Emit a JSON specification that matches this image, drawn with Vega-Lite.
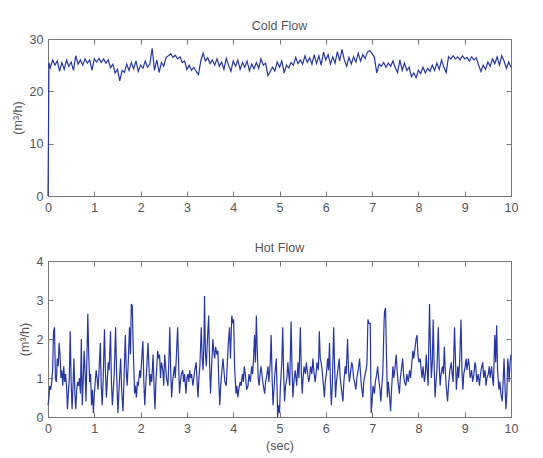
{
"$schema": "https://vega.github.io/schema/vega-lite/v6.json",
"padding": {"left": 11, "top": 19, "right": 30, "bottom": 2},
"spacing": 27,
"config": {
  "font": "Liberation Sans",
  "view": {"stroke": null},
  "axis": {"domainColor": "#777", "tickColor": "#777", "tickSize": -5, "labelPadding": 10, "labelColor": "#555", "labelFontSize": 12.5, "titleColor": "#555", "titleFontSize": 12.5, "titleFontWeight": "normal", "grid": false, "labelFlush": false, "labelOverlap": false, "titlePadding": 5},
  "title": {"fontSize": 12.5, "fontWeight": "normal", "color": "#555", "offset": 1}
},
"datasets": {
"cold": [
{"t":0,"v":0},{"t":0.01,"v":11},{"t":0.02,"v":25.5},{"t":0.05,"v":24.5},{"t":0.1,"v":26},{"t":0.15,"v":25},{"t":0.2,"v":25.8},{"t":0.25,"v":23.8},{"t":0.3,"v":25.5},{"t":0.35,"v":24.2},{"t":0.4,"v":26},{"t":0.45,"v":24.8},{"t":0.5,"v":25.6},{"t":0.55,"v":24},{"t":0.6,"v":26.8},{"t":0.65,"v":25.2},{"t":0.7,"v":26},{"t":0.75,"v":25},{"t":0.8,"v":26.2},{"t":0.85,"v":25.4},{"t":0.9,"v":26},{"t":0.95,"v":24},
{"t":1,"v":26.2},{"t":1.05,"v":25.6},{"t":1.1,"v":26.3},{"t":1.15,"v":25.5},{"t":1.2,"v":26.2},{"t":1.25,"v":25.4},{"t":1.3,"v":26},{"t":1.35,"v":24.5},{"t":1.4,"v":25.2},{"t":1.45,"v":23.5},{"t":1.5,"v":24.2},{"t":1.55,"v":22},{"t":1.6,"v":24},{"t":1.65,"v":23.6},{"t":1.7,"v":25.2},{"t":1.75,"v":24},{"t":1.8,"v":25.5},{"t":1.85,"v":24.3},{"t":1.9,"v":25.8},{"t":1.95,"v":23.8},
{"t":2,"v":25},{"t":2.05,"v":24.4},{"t":2.1,"v":25.8},{"t":2.15,"v":24.6},{"t":2.2,"v":25.2},{"t":2.25,"v":28.2},{"t":2.3,"v":24},{"t":2.35,"v":26},{"t":2.4,"v":23.6},{"t":2.45,"v":25.5},{"t":2.5,"v":24.8},{"t":2.55,"v":26.5},{"t":2.6,"v":26.8},{"t":2.65,"v":27.2},{"t":2.7,"v":26.5},{"t":2.75,"v":26.9},{"t":2.8,"v":26.2},{"t":2.85,"v":26.6},{"t":2.9,"v":25.5},{"t":2.95,"v":25.8},
{"t":3,"v":24.2},{"t":3.05,"v":25},{"t":3.1,"v":24},{"t":3.15,"v":24.6},{"t":3.2,"v":23.8},{"t":3.25,"v":23.2},{"t":3.3,"v":25.8},{"t":3.35,"v":27.3},{"t":3.4,"v":25.8},{"t":3.45,"v":26.4},{"t":3.5,"v":25.3},{"t":3.55,"v":26},{"t":3.6,"v":25},{"t":3.65,"v":26.2},{"t":3.7,"v":24.8},{"t":3.75,"v":25.6},{"t":3.8,"v":24.2},{"t":3.85,"v":26.3},{"t":3.9,"v":25},{"t":3.95,"v":23.8},
{"t":4,"v":25.8},{"t":4.05,"v":24.8},{"t":4.1,"v":26},{"t":4.15,"v":24.2},{"t":4.2,"v":25.5},{"t":4.25,"v":24.6},{"t":4.3,"v":25.8},{"t":4.35,"v":23.9},{"t":4.4,"v":25.2},{"t":4.45,"v":24.3},{"t":4.5,"v":25.5},{"t":4.55,"v":24.4},{"t":4.6,"v":26.2},{"t":4.65,"v":25},{"t":4.7,"v":25.4},{"t":4.75,"v":23},{"t":4.8,"v":23.8},{"t":4.85,"v":24.6},{"t":4.9,"v":23.9},{"t":4.95,"v":25.6},
{"t":5,"v":24.6},{"t":5.05,"v":25.8},{"t":5.1,"v":23.5},{"t":5.15,"v":25},{"t":5.2,"v":24.5},{"t":5.25,"v":25.5},{"t":5.3,"v":25},{"t":5.35,"v":26.5},{"t":5.4,"v":25.3},{"t":5.45,"v":26},{"t":5.5,"v":25.2},{"t":5.55,"v":26.8},{"t":5.6,"v":25.5},{"t":5.65,"v":26.4},{"t":5.7,"v":25.2},{"t":5.75,"v":27},{"t":5.8,"v":25.3},{"t":5.85,"v":26.8},{"t":5.9,"v":25},{"t":5.95,"v":27.5},
{"t":6,"v":26},{"t":6.05,"v":27},{"t":6.1,"v":25.2},{"t":6.15,"v":26.6},{"t":6.2,"v":25.4},{"t":6.25,"v":27.6},{"t":6.3,"v":25.8},{"t":6.35,"v":28},{"t":6.4,"v":26},{"t":6.45,"v":24.8},{"t":6.5,"v":26.5},{"t":6.55,"v":25.2},{"t":6.6,"v":26.6},{"t":6.65,"v":25.6},{"t":6.7,"v":27.3},{"t":6.75,"v":25.8},{"t":6.8,"v":27},{"t":6.85,"v":26.3},{"t":6.9,"v":27.5},{"t":6.95,"v":27.8},
{"t":7,"v":27.2},{"t":7.05,"v":26.5},{"t":7.1,"v":23.5},{"t":7.15,"v":25.2},{"t":7.2,"v":24.8},{"t":7.25,"v":25.5},{"t":7.3,"v":24.6},{"t":7.35,"v":25.4},{"t":7.4,"v":24.8},{"t":7.45,"v":25.8},{"t":7.5,"v":24.5},{"t":7.55,"v":23.6},{"t":7.6,"v":26},{"t":7.65,"v":24},{"t":7.7,"v":25.4},{"t":7.75,"v":24},{"t":7.8,"v":24.6},{"t":7.85,"v":22.8},{"t":7.9,"v":23.5},{"t":7.95,"v":22.6},
{"t":8,"v":24},{"t":8.05,"v":23.4},{"t":8.1,"v":24.6},{"t":8.15,"v":23.5},{"t":8.2,"v":24.4},{"t":8.25,"v":23.8},{"t":8.3,"v":25},{"t":8.35,"v":24},{"t":8.4,"v":25.4},{"t":8.45,"v":24.2},{"t":8.5,"v":26},{"t":8.55,"v":24.6},{"t":8.6,"v":23.6},{"t":8.65,"v":26.6},{"t":8.7,"v":26.2},{"t":8.75,"v":26.8},{"t":8.8,"v":26.2},{"t":8.85,"v":26.6},{"t":8.9,"v":26},{"t":8.95,"v":26.8},
{"t":9,"v":26.2},{"t":9.05,"v":26.5},{"t":9.1,"v":25.8},{"t":9.15,"v":26.6},{"t":9.2,"v":26},{"t":9.25,"v":26.4},{"t":9.3,"v":25},{"t":9.35,"v":23.8},{"t":9.4,"v":25},{"t":9.45,"v":24.2},{"t":9.5,"v":25.6},{"t":9.55,"v":24.8},{"t":9.6,"v":26.2},{"t":9.65,"v":25.3},{"t":9.7,"v":26.6},{"t":9.75,"v":25},{"t":9.8,"v":26.8},{"t":9.85,"v":25.8},{"t":9.9,"v":24.4},{"t":9.95,"v":25.6},{"t":10,"v":24.6}
],
"hot": [
{"t":0,"v":0.3},{"t":0.02,"v":0.5},{"t":0.04,"v":0.8},{"t":0.06,"v":0.7},{"t":0.08,"v":0.9},{"t":0.1,"v":1.2},{"t":0.12,"v":2.2},{"t":0.14,"v":2.3},{"t":0.16,"v":1},{"t":0.18,"v":0.9},{"t":0.2,"v":1.5},{"t":0.22,"v":1.3},{"t":0.24,"v":1.9},{"t":0.26,"v":1.6},{"t":0.28,"v":1},{"t":0.3,"v":1.2},{"t":0.32,"v":0.8},{"t":0.34,"v":1.3},{"t":0.36,"v":0.9},{"t":0.38,"v":1.1},{"t":0.4,"v":0.8},{"t":0.42,"v":0.2},{"t":0.44,"v":0.6},{"t":0.46,"v":1},{"t":0.48,"v":2.2},{"t":0.5,"v":0.9},{"t":0.52,"v":0.2},{"t":0.54,"v":0.8},{"t":0.56,"v":1.5},{"t":0.58,"v":0.6},{"t":0.6,"v":0.2},{"t":0.62,"v":0.7},{"t":0.64,"v":0.9},{"t":0.66,"v":0.8},{"t":0.68,"v":1},{"t":0.7,"v":0.6},{"t":0.72,"v":2},{"t":0.74,"v":0.3},{"t":0.76,"v":0.9},{"t":0.78,"v":1.7},{"t":0.8,"v":1.2},{"t":0.82,"v":0.4},{"t":0.84,"v":1.5},{"t":0.86,"v":2.65},{"t":0.88,"v":1.6},{"t":0.9,"v":0.9},{"t":0.92,"v":1.1},{"t":0.94,"v":0.3},{"t":0.96,"v":0.7},{"t":0.98,"v":0.1},
{"t":1,"v":0.6},{"t":1.02,"v":0.9},{"t":1.04,"v":1.2},{"t":1.06,"v":1},{"t":1.08,"v":0.7},{"t":1.1,"v":1.1},{"t":1.13,"v":1.9},{"t":1.15,"v":0.8},{"t":1.17,"v":0.3},{"t":1.19,"v":0.9},{"t":1.22,"v":2.25},{"t":1.24,"v":1.2},{"t":1.26,"v":0.5},{"t":1.28,"v":0.9},{"t":1.3,"v":1.4},{"t":1.32,"v":1.2},{"t":1.35,"v":2.2},{"t":1.37,"v":0.9},{"t":1.39,"v":0.3},{"t":1.41,"v":0.7},{"t":1.43,"v":1.1},{"t":1.46,"v":2.3},{"t":1.48,"v":1.2},{"t":1.51,"v":0.1},{"t":1.53,"v":0.6},{"t":1.55,"v":1.1},{"t":1.57,"v":1.5},{"t":1.59,"v":0.7},{"t":1.62,"v":0.15},{"t":1.64,"v":0.9},{"t":1.67,"v":2.1},{"t":1.69,"v":1.2},{"t":1.71,"v":0.8},{"t":1.73,"v":1.3},{"t":1.76,"v":2.3},{"t":1.78,"v":1.6},{"t":1.8,"v":2.9},{"t":1.82,"v":2.85},{"t":1.84,"v":1.8},{"t":1.87,"v":0.6},{"t":1.89,"v":0.8},{"t":1.91,"v":0.5},{"t":1.93,"v":0.9},{"t":1.95,"v":0.8},{"t":1.98,"v":1.2},
{"t":2,"v":1},{"t":2.02,"v":1.4},{"t":2.05,"v":1.95},{"t":2.07,"v":0.9},{"t":2.09,"v":0.3},{"t":2.11,"v":0.8},{"t":2.13,"v":1.2},{"t":2.16,"v":1.9},{"t":2.18,"v":1.3},{"t":2.2,"v":0.8},{"t":2.22,"v":1.1},{"t":2.24,"v":0.9},{"t":2.27,"v":1.6},{"t":2.29,"v":0.8},{"t":2.31,"v":0.2},{"t":2.33,"v":0.9},{"t":2.35,"v":1.3},{"t":2.37,"v":1.7},{"t":2.39,"v":1.5},{"t":2.41,"v":1.6},{"t":2.43,"v":1},{"t":2.45,"v":1.4},{"t":2.48,"v":1.2},{"t":2.5,"v":0.8},{"t":2.52,"v":1.6},{"t":2.54,"v":1.3},{"t":2.56,"v":1},{"t":2.59,"v":0.8},{"t":2.61,"v":1.4},{"t":2.63,"v":2.3},{"t":2.65,"v":1.2},{"t":2.67,"v":0.5},{"t":2.69,"v":0.9},{"t":2.71,"v":1.1},{"t":2.73,"v":1.3},{"t":2.75,"v":1},{"t":2.77,"v":1.5},{"t":2.8,"v":2.3},{"t":2.82,"v":1.4},{"t":2.84,"v":0.6},{"t":2.86,"v":0.9},{"t":2.88,"v":1.1},{"t":2.91,"v":1.2},{"t":2.93,"v":0.9},{"t":2.95,"v":1.1},{"t":2.98,"v":0.6},
{"t":3,"v":1},{"t":3.02,"v":1.1},{"t":3.04,"v":0.9},{"t":3.06,"v":1.2},{"t":3.08,"v":1},{"t":3.1,"v":1.1},{"t":3.13,"v":0.8},{"t":3.15,"v":1},{"t":3.17,"v":1.2},{"t":3.2,"v":1.4},{"t":3.22,"v":0.9},{"t":3.24,"v":0.5},{"t":3.26,"v":1},{"t":3.28,"v":1.3},{"t":3.31,"v":2.3},{"t":3.33,"v":1.5},{"t":3.35,"v":1.2},{"t":3.37,"v":2},{"t":3.38,"v":3.1},{"t":3.4,"v":1.6},{"t":3.42,"v":1.3},{"t":3.44,"v":1.9},{"t":3.47,"v":2.6},{"t":3.49,"v":1.4},{"t":3.51,"v":0.6},{"t":3.53,"v":1.2},{"t":3.56,"v":2},{"t":3.58,"v":1.7},{"t":3.6,"v":1.5},{"t":3.62,"v":1.8},{"t":3.65,"v":1.6},{"t":3.67,"v":1.7},{"t":3.69,"v":0.9},{"t":3.71,"v":0.3},{"t":3.73,"v":0.8},{"t":3.75,"v":1.1},{"t":3.78,"v":1.5},{"t":3.8,"v":1.2},{"t":3.82,"v":0.9},{"t":3.85,"v":0.8},{"t":3.87,"v":1.3},{"t":3.89,"v":1.8},{"t":3.92,"v":2.3},{"t":3.94,"v":1.5},{"t":3.97,"v":2.6},{"t":3.99,"v":2.4},
{"t":4.01,"v":2.5},{"t":4.03,"v":1.3},{"t":4.06,"v":0.6},{"t":4.08,"v":0.8},{"t":4.1,"v":0.5},{"t":4.12,"v":0.7},{"t":4.15,"v":0.9},{"t":4.17,"v":0.8},{"t":4.2,"v":1.1},{"t":4.22,"v":0.9},{"t":4.24,"v":1.3},{"t":4.27,"v":1},{"t":4.29,"v":0.7},{"t":4.32,"v":0.8},{"t":4.34,"v":1.1},{"t":4.37,"v":0.9},{"t":4.4,"v":1.3},{"t":4.42,"v":1.1},{"t":4.44,"v":1.5},{"t":4.46,"v":2.1},{"t":4.48,"v":1.4},{"t":4.5,"v":2.6},{"t":4.52,"v":1.7},{"t":4.54,"v":1},{"t":4.56,"v":0.8},{"t":4.58,"v":1.1},{"t":4.6,"v":1.3},{"t":4.63,"v":1},{"t":4.65,"v":0.8},{"t":4.68,"v":0.6},{"t":4.7,"v":0.9},{"t":4.73,"v":1.1},{"t":4.75,"v":1.3},{"t":4.77,"v":0.9},{"t":4.8,"v":1.4},{"t":4.82,"v":2.1},{"t":4.84,"v":1},{"t":4.86,"v":0.3},{"t":4.88,"v":0.7},{"t":4.9,"v":1.1},{"t":4.93,"v":1.5},{"t":4.95,"v":0.6},{"t":4.96,"v":0},{"t":4.98,"v":0.3},
{"t":5,"v":0.1},{"t":5.02,"v":0.8},{"t":5.05,"v":1.4},{"t":5.07,"v":2.3},{"t":5.09,"v":1.1},{"t":5.11,"v":0.4},{"t":5.13,"v":0.8},{"t":5.16,"v":1},{"t":5.18,"v":1.4},{"t":5.2,"v":1.1},{"t":5.22,"v":0.8},{"t":5.25,"v":2.45},{"t":5.27,"v":1.3},{"t":5.29,"v":0.5},{"t":5.31,"v":0.9},{"t":5.34,"v":1.2},{"t":5.37,"v":0.8},{"t":5.4,"v":1.4},{"t":5.42,"v":1},{"t":5.45,"v":2.3},{"t":5.47,"v":1.2},{"t":5.49,"v":0.6},{"t":5.51,"v":1},{"t":5.53,"v":1.3},{"t":5.56,"v":1.1},{"t":5.58,"v":1.4},{"t":5.6,"v":1.2},{"t":5.63,"v":0.9},{"t":5.65,"v":1},{"t":5.67,"v":1.3},{"t":5.7,"v":1.1},{"t":5.72,"v":1.5},{"t":5.74,"v":1.2},{"t":5.77,"v":0.9},{"t":5.79,"v":1.1},{"t":5.81,"v":1.4},{"t":5.84,"v":1.2},{"t":5.86,"v":2.2},{"t":5.88,"v":1.5},{"t":5.9,"v":1.4},{"t":5.92,"v":1.2},{"t":5.95,"v":0.8},{"t":5.97,"v":0.5},{"t":5.99,"v":0.9},
{"t":6.02,"v":1.2},{"t":6.04,"v":1.5},{"t":6.06,"v":1.2},{"t":6.08,"v":1.9},{"t":6.1,"v":0.9},{"t":6.12,"v":0.3},{"t":6.14,"v":0.8},{"t":6.17,"v":2.3},{"t":6.19,"v":1.3},{"t":6.21,"v":0.5},{"t":6.23,"v":0.9},{"t":6.26,"v":1.2},{"t":6.29,"v":1.5},{"t":6.31,"v":1},{"t":6.34,"v":0.7},{"t":6.37,"v":0.4},{"t":6.39,"v":0.9},{"t":6.42,"v":1.3},{"t":6.44,"v":1.1},{"t":6.47,"v":2},{"t":6.49,"v":1.2},{"t":6.51,"v":0.9},{"t":6.53,"v":1.1},{"t":6.56,"v":1.4},{"t":6.58,"v":1.3},{"t":6.6,"v":1},{"t":6.62,"v":0.9},{"t":6.65,"v":0.7},{"t":6.67,"v":1},{"t":6.7,"v":1.2},{"t":6.73,"v":1.5},{"t":6.75,"v":1.1},{"t":6.77,"v":0.8},{"t":6.8,"v":0.5},{"t":6.82,"v":0.9},{"t":6.85,"v":1.1},{"t":6.87,"v":1.2},{"t":6.89,"v":1.4},{"t":6.91,"v":2.5},{"t":6.93,"v":2.4},{"t":6.96,"v":2.4},{"t":6.98,"v":0.1},
{"t":7,"v":0.4},{"t":7.02,"v":0.8},{"t":7.05,"v":0.6},{"t":7.07,"v":0.9},{"t":7.1,"v":1.1},{"t":7.12,"v":1.3},{"t":7.14,"v":1},{"t":7.17,"v":0.7},{"t":7.19,"v":0.4},{"t":7.21,"v":0.8},{"t":7.23,"v":1.1},{"t":7.26,"v":2.5},{"t":7.27,"v":2.7},{"t":7.29,"v":2.8},{"t":7.31,"v":1.6},{"t":7.33,"v":0.5},{"t":7.35,"v":0.9},{"t":7.38,"v":0.5},{"t":7.4,"v":0.15},{"t":7.42,"v":0.7},{"t":7.45,"v":1.3},{"t":7.47,"v":1},{"t":7.49,"v":1.2},{"t":7.52,"v":1.6},{"t":7.54,"v":1.2},{"t":7.56,"v":0.9},{"t":7.59,"v":0.6},{"t":7.61,"v":1},{"t":7.63,"v":1.2},{"t":7.66,"v":1.5},{"t":7.68,"v":1.1},{"t":7.7,"v":0.9},{"t":7.73,"v":0.8},{"t":7.75,"v":1.1},{"t":7.78,"v":0.9},{"t":7.81,"v":1.2},{"t":7.83,"v":1},{"t":7.86,"v":1.4},{"t":7.88,"v":1.7},{"t":7.9,"v":1.5},{"t":7.93,"v":1.8},{"t":7.95,"v":2},{"t":7.97,"v":2.1},{"t":7.99,"v":1.6},
{"t":8.01,"v":1.4},{"t":8.04,"v":1.5},{"t":8.06,"v":1.2},{"t":8.08,"v":1},{"t":8.1,"v":1.3},{"t":8.13,"v":0.9},{"t":8.15,"v":1.1},{"t":8.17,"v":1.6},{"t":8.19,"v":1.2},{"t":8.21,"v":0.8},{"t":8.22,"v":1.5},{"t":8.24,"v":2.9},{"t":8.26,"v":1.8},{"t":8.28,"v":1},{"t":8.3,"v":1.4},{"t":8.32,"v":2.5},{"t":8.34,"v":1.3},{"t":8.36,"v":0.5},{"t":8.38,"v":0.9},{"t":8.4,"v":1.2},{"t":8.43,"v":2.3},{"t":8.45,"v":1.3},{"t":8.47,"v":0.8},{"t":8.49,"v":1.1},{"t":8.52,"v":1.3},{"t":8.54,"v":1.1},{"t":8.56,"v":1.8},{"t":8.58,"v":1.2},{"t":8.6,"v":0.8},{"t":8.63,"v":0.4},{"t":8.65,"v":0.8},{"t":8.68,"v":1.2},{"t":8.71,"v":1.4},{"t":8.73,"v":1.1},{"t":8.75,"v":0.9},{"t":8.78,"v":2.3},{"t":8.8,"v":1.5},{"t":8.82,"v":0.7},{"t":8.85,"v":1.3},{"t":8.87,"v":1},{"t":8.89,"v":1.4},{"t":8.92,"v":2.5},{"t":8.94,"v":1.2},{"t":8.96,"v":0.7},{"t":8.98,"v":1.1},
{"t":9.01,"v":1.3},{"t":9.03,"v":1.5},{"t":9.05,"v":1.2},{"t":9.08,"v":1.5},{"t":9.1,"v":1.3},{"t":9.12,"v":1},{"t":9.15,"v":1.2},{"t":9.17,"v":0.9},{"t":9.2,"v":1.1},{"t":9.22,"v":1.4},{"t":9.24,"v":1.3},{"t":9.26,"v":0.9},{"t":9.29,"v":1.1},{"t":9.32,"v":0.8},{"t":9.34,"v":1.1},{"t":9.37,"v":1.3},{"t":9.39,"v":1.4},{"t":9.41,"v":1},{"t":9.44,"v":1.2},{"t":9.46,"v":0.8},{"t":9.48,"v":1},{"t":9.51,"v":1.1},{"t":9.53,"v":1.3},{"t":9.55,"v":1},{"t":9.58,"v":1.3},{"t":9.6,"v":1},{"t":9.62,"v":0.8},{"t":9.65,"v":2.1},{"t":9.67,"v":1.4},{"t":9.69,"v":2.35},{"t":9.71,"v":1.2},{"t":9.74,"v":0.7},{"t":9.76,"v":0.9},{"t":9.78,"v":0.6},{"t":9.81,"v":0.4},{"t":9.83,"v":0.9},{"t":9.85,"v":1.5},{"t":9.87,"v":0.8},{"t":9.89,"v":0.2},{"t":9.91,"v":0.6},{"t":9.93,"v":1.5},{"t":9.95,"v":1.2},{"t":9.96,"v":0.9},{"t":9.98,"v":1.4},{"t":10,"v":1.6}
]
},
"vconcat": [
{
  "title": "Cold Flow",
  "width": 463, "height": 157,
  "data": {"name": "cold"},
  "layer": [
    {"mark": {"type": "line", "color": "#2536a5", "strokeWidth": 1.2},
     "encoding": {
       "x": {"field": "t", "type": "quantitative", "scale": {"domain": [0, 10], "nice": false}, "axis": {"title": null, "values": [0,1,2,3,4,5,6,7,8,9,10]}},
       "y": {"field": "v", "type": "quantitative", "scale": {"domain": [0, 30], "nice": false}, "axis": {"title": "(m³/h)", "values": [0,10,20,30]}}
     }},
    {"mark": {"type": "line", "opacity": 0},
     "encoding": {
       "x": {"field": "t", "type": "quantitative", "axis": {"orient": "top", "title": null, "labels": false, "values": [0,1,2,3,4,5,6,7,8,9,10]}},
       "y": {"field": "v", "type": "quantitative", "axis": {"orient": "right", "title": null, "labels": false, "values": [0,10,20,30]}}
     }}
  ],
  "resolve": {"axis": {"x": "independent", "y": "independent"}}
},
{
  "title": "Hot Flow",
  "width": 463, "height": 156,
  "data": {"name": "hot"},
  "layer": [
    {"mark": {"type": "line", "color": "#2536a5", "strokeWidth": 1.2},
     "encoding": {
       "x": {"field": "t", "type": "quantitative", "scale": {"domain": [0, 10], "nice": false}, "axis": {"title": "(sec)", "values": [0,1,2,3,4,5,6,7,8,9,10]}},
       "y": {"field": "v", "type": "quantitative", "scale": {"domain": [0, 4], "nice": false}, "axis": {"title": "(m³/h)", "values": [0,1,2,3,4]}}
     }},
    {"mark": {"type": "line", "opacity": 0},
     "encoding": {
       "x": {"field": "t", "type": "quantitative", "axis": {"orient": "top", "title": null, "labels": false, "values": [0,1,2,3,4,5,6,7,8,9,10]}},
       "y": {"field": "v", "type": "quantitative", "axis": {"orient": "right", "title": null, "labels": false, "values": [0,1,2,3,4]}}
     }}
  ],
  "resolve": {"axis": {"x": "independent", "y": "independent"}}
}
]
}
